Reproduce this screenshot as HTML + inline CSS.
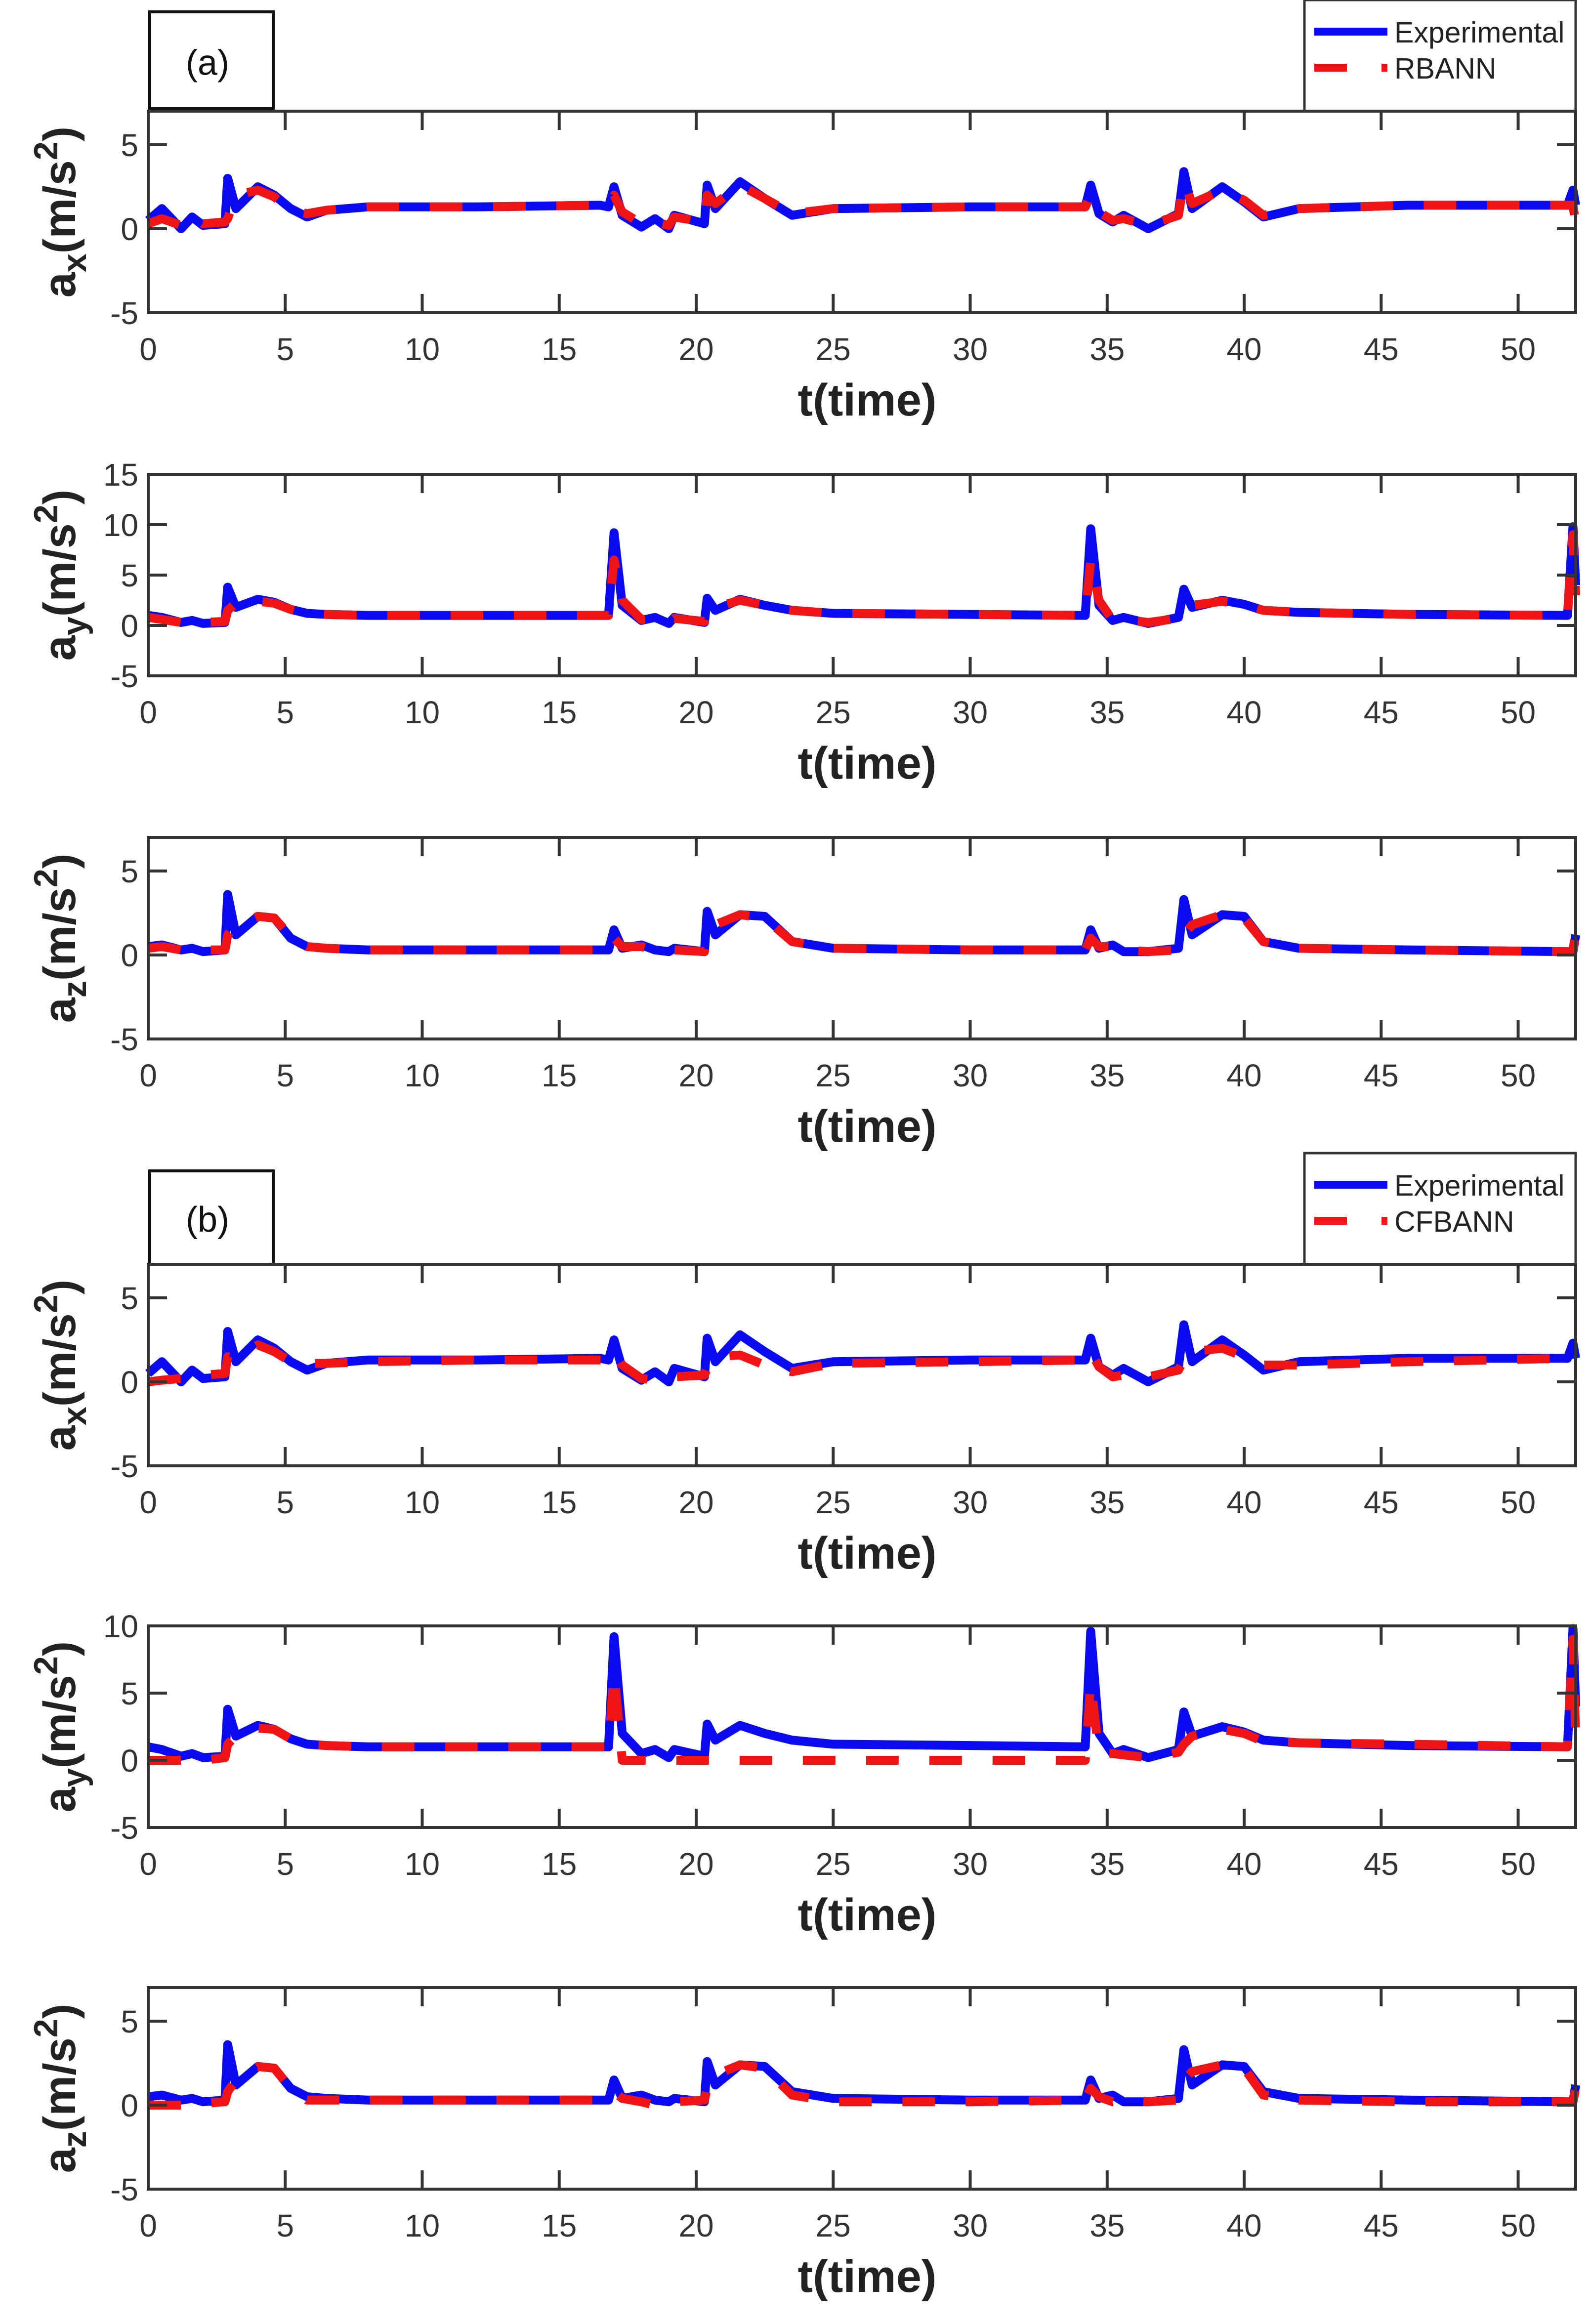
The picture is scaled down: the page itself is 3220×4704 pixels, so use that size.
<!DOCTYPE html>
<html><head><meta charset="utf-8">
<style>
html,body{margin:0;padding:0;background:#fff;}
svg{display:block;}
text{font-family:"Liberation Sans",sans-serif;}
</style></head>
<body>
<svg id="fig" xmlns="http://www.w3.org/2000/svg" width="3220" height="4704" viewBox="0 0 3220 4704"></svg>
<script>
// shared time grid (s)
const T = [0,0.5,1.2,1.6,2.0,2.8,2.9,3.2,4.0,4.6,5.2,5.8,6.5,8,12,16.5,16.8,17.0,17.3,18.0,18.5,19.0,19.2,20.3,20.4,20.7,21.6,22.5,23.5,25,30,34.2,34.4,34.7,35.2,35.6,36.5,37.6,37.8,38.1,39.2,40.0,40.7,42,46,51.8,52.0,52.1];
const xTicks = [0,5,10,15,20,25,30,35,40,45,50];
// experimental series
const expAx = [0.5,1.2,0,0.7,0.2,0.3,3,1.2,2.5,2,1.2,0.7,1.1,1.3,1.3,1.4,1.3,2.5,0.8,0.1,0.6,0,0.8,0.3,2.6,1.2,2.8,1.8,0.8,1.2,1.3,1.3,2.6,0.9,0.4,0.8,0,0.9,3.4,1.2,2.5,1.6,0.7,1.2,1.4,1.4,2.3,1.4];
const expAy = [1,0.8,0.3,0.5,0.2,0.3,3.8,1.8,2.6,2.3,1.6,1.2,1.1,1.0,1.0,1.0,1.0,9.2,2,0.5,0.8,0.2,0.8,0.3,2.7,1.5,2.6,2,1.5,1.2,1.1,1.0,9.6,2,0.5,0.8,0.2,0.8,3.6,1.8,2.5,2.1,1.5,1.3,1.1,1.0,9.8,4];
const expAz = [0.5,0.6,0.3,0.4,0.2,0.3,3.6,1.2,2.3,2.2,1.0,0.5,0.4,0.3,0.3,0.3,0.3,1.5,0.4,0.6,0.3,0.2,0.4,0.2,2.6,1.2,2.4,2.3,0.8,0.4,0.3,0.3,1.5,0.4,0.6,0.2,0.2,0.4,3.3,1.2,2.4,2.3,0.8,0.4,0.3,0.2,0.2,1.2];
// RBANN predictions
const rbAx = [0.3,0.6,0.2,0.8,0.3,0.4,0.6,2,2.3,1.9,1.1,0.9,1.1,1.3,1.3,1.4,1.4,2.0,1.0,0.3,0.4,0.2,0.7,0.4,2.0,1.5,2.6,1.8,0.9,1.2,1.3,1.3,2.0,1.0,0.5,0.6,0.2,0.8,2.8,1.5,2.3,1.7,0.8,1.2,1.4,1.4,1.4,0.3];
const rbAy = [0.8,0.6,0.3,0.5,0.3,0.4,1.5,2.2,2.4,2.2,1.6,1.2,1.1,1.0,1.0,1.0,1.0,6.5,2.5,0.6,0.6,0.3,0.7,0.4,1.5,1.8,2.5,2.0,1.5,1.2,1.1,1.0,6.5,2.5,0.5,0.6,0.3,0.7,1.5,2.0,2.4,2.0,1.5,1.3,1.1,1.0,9,3];
const rbAz = [0.4,0.5,0.3,0.4,0.3,0.3,1.2,1.8,2.3,2.2,1.1,0.5,0.4,0.3,0.3,0.3,0.3,1.0,0.5,0.5,0.3,0.2,0.3,0.2,1.2,1.8,2.4,2.2,0.8,0.4,0.3,0.3,1.0,0.5,0.5,0.3,0.2,0.3,1.2,1.8,2.4,2.2,0.8,0.4,0.3,0.2,0.2,1.5];
// CFBANN predictions
const cfAx = [0,0.1,0.2,0.3,0.4,0.5,1.5,1.4,2.2,1.8,1.2,1.1,1.1,1.2,1.3,1.3,1.3,1.8,1.0,0.2,0.1,0.1,0.3,0.4,0.8,1.5,1.6,1.0,0.6,1.1,1.2,1.3,1.8,0.9,0.3,0.4,0.3,0.7,1.3,1.8,2.0,1.5,1.0,1.0,1.2,1.4,1.6,1.4];
const cfAy = [0,0,0,0,0,0.2,1.2,1.8,2.4,2.3,1.6,1.2,1.1,1.0,1.0,1.0,1.0,6.5,0,0,0,0,0,0,0,0,0,0,0,0,0,0,5.8,0.5,0.5,0.4,0.2,0.6,1.2,1.8,2.3,2.0,1.4,1.3,1.2,1.0,9.0,1.5];
const cfAz = [0,0,0,0.1,0.1,0.2,0.8,1.5,2.3,2.2,1.0,0.3,0.3,0.3,0.3,0.3,0.5,0.8,0.4,0.2,0,0.1,0.2,0.3,1.0,1.8,2.4,2.2,0.6,0.2,0.2,0.3,1.0,0.5,0.2,0.3,0.2,0.3,1.5,2.0,2.4,2.2,0.6,0.3,0.2,0.2,0.2,1.0];
const yTicks7 = [-5,0,5];
const yTicks15 = [-5,0,5,10,15];
const yTicks10 = [-5,0,5,10];

const NS = "http://www.w3.org/2000/svg";
const svg = document.getElementById('fig');
function mk(tag, attrs, parent, txt){
  const e = document.createElementNS(NS, tag);
  for (const k in attrs) e.setAttribute(k, attrs[k]);
  if (txt !== undefined) e.textContent = txt;
  (parent || svg).appendChild(e);
  return e;
}
const L = 300, R = 3189, H = 408, XMAX = 52.1;
function sx(t){ return L + t/XMAX*(R-L); }

function panel(top, ymin, ymax, yt, sub, exp, pred, name){
  const g = mk('g', {});
  
  
  const sy = v => top + (ymax - v)/(ymax-ymin)*H;
  const ptsE = T.map((t,i)=>sx(t).toFixed(1)+','+sy(exp[i]).toFixed(1)).join(' ');
  const ptsP = T.map((t,i)=>sx(t).toFixed(1)+','+sy(pred[i]).toFixed(1)).join(' ');
  const pe = mk('polyline', {points:ptsE, fill:'none', stroke:'#0a0af0', 'stroke-width':18, 'stroke-linejoin':'round'}, g);
  
  
  const pp = mk('polyline', {points:ptsP, fill:'none', stroke:'#f01414', 'stroke-width':18, 'stroke-dasharray':'66 62', 'stroke-linejoin':'round'}, g);
  
  
  const box = mk('rect', {x:L, y:top, width:R-L, height:H, fill:'none', stroke:'#333', 'stroke-width':6}, g);
  
  
  xTicks.forEach(v=>{
    const x = sx(v);
    mk('line', {x1:x, x2:x, y1:top+H, y2:top+H-38, stroke:'#333', 'stroke-width':6}, g);
    mk('line', {x1:x, x2:x, y1:top, y2:top+38, stroke:'#333', 'stroke-width':6}, g);
    const tl = mk('text', {x:x, y:top+H+96, 'font-size':64, 'text-anchor':'middle', fill:'#333'}, g, String(v));
    
    
  });
  yt.forEach(v=>{
    const y = sy(v);
    mk('line', {x1:L, x2:L+38, y1:y, y2:y, stroke:'#333', 'stroke-width':6}, g);
    mk('line', {x1:R, x2:R-38, y1:y, y2:y, stroke:'#333', 'stroke-width':6}, g);
    const tl = mk('text', {x:L-20, y:y+23, 'font-size':64, 'text-anchor':'end', fill:'#333'}, g, String(v));
    
    
  });
  const xl = mk('text', {x:1755, y:top+H+208, 'font-size':92, 'font-weight':'bold', 'text-anchor':'middle', fill:'#222'}, g, 't(time)');
  
  
  const yl = mk('text', {transform:'translate(152,'+(top+H/2)+') rotate(-90)', 'font-size':92, 'font-weight':'bold', 'text-anchor':'middle', fill:'#222'}, g);
  
  
  mk('tspan', {}, yl, 'a');
  mk('tspan', {dy:22, 'font-size':68}, yl, sub);
  mk('tspan', {dy:-22}, yl, '(m/s');
  mk('tspan', {dy:-36, 'font-size':68}, yl, '2');
  mk('tspan', {dy:36}, yl, ')');
}

function header(top, boxTop, boxH, label, model, nm){
  const g = mk('g', {});
  
  
  const lb = mk('rect', {x:303, y:boxTop, width:250, height:boxH, fill:'#fff', stroke:'#111', 'stroke-width':6}, g);
  
  
  mk('text', {x:420, y:boxTop+boxH*0.65, 'font-size':72, 'text-anchor':'middle', 'font-family':'"Liberation Serif",serif', fill:'#111'}, g, label);
  const lg = mk('rect', {x:2640, y:top, width:549, height:225, fill:'#fff', stroke:'#333', 'stroke-width':5}, g);
  
  
  const e1 = mk('g', {}, g);
  
  
  mk('line', {x1:2660, x2:2808, y1:top+64, y2:top+64, stroke:'#0a0af0', 'stroke-width':16}, e1);
  mk('text', {x:2822, y:top+86, 'font-size':59, fill:'#222'}, e1, 'Experimental');
  const e2 = mk('g', {}, g);
  
  
  mk('line', {x1:2660, x2:2726, y1:top+137, y2:top+137, stroke:'#f01414', 'stroke-width':16}, e2);
  mk('line', {x1:2796, x2:2808, y1:top+137, y2:top+137, stroke:'#f01414', 'stroke-width':16}, e2);
  mk('text', {x:2822, y:top+159, 'font-size':59, fill:'#222'}, e2, model);
}

header(0, 24, 196, '(a)', 'RBANN', 'header-a');
panel(225, -5, 7, yTicks7, 'x', expAx, rbAx, 'panel-a-ax');
panel(960, -5, 15, yTicks15, 'y', expAy, rbAy, 'panel-a-ay');
panel(1695, -5, 7, yTicks7, 'z', expAz, rbAz, 'panel-a-az');
header(2334, 2370, 189, '(b)', 'CFBANN', 'header-b');
panel(2559, -5, 7, yTicks7, 'x', expAx, cfAx, 'panel-b-ax');
panel(3291, -5, 10, yTicks10, 'y', expAy, cfAy, 'panel-b-ay');
panel(4023, -5, 7, yTicks7, 'z', expAz, cfAz, 'panel-b-az');
</script>
</body></html>
